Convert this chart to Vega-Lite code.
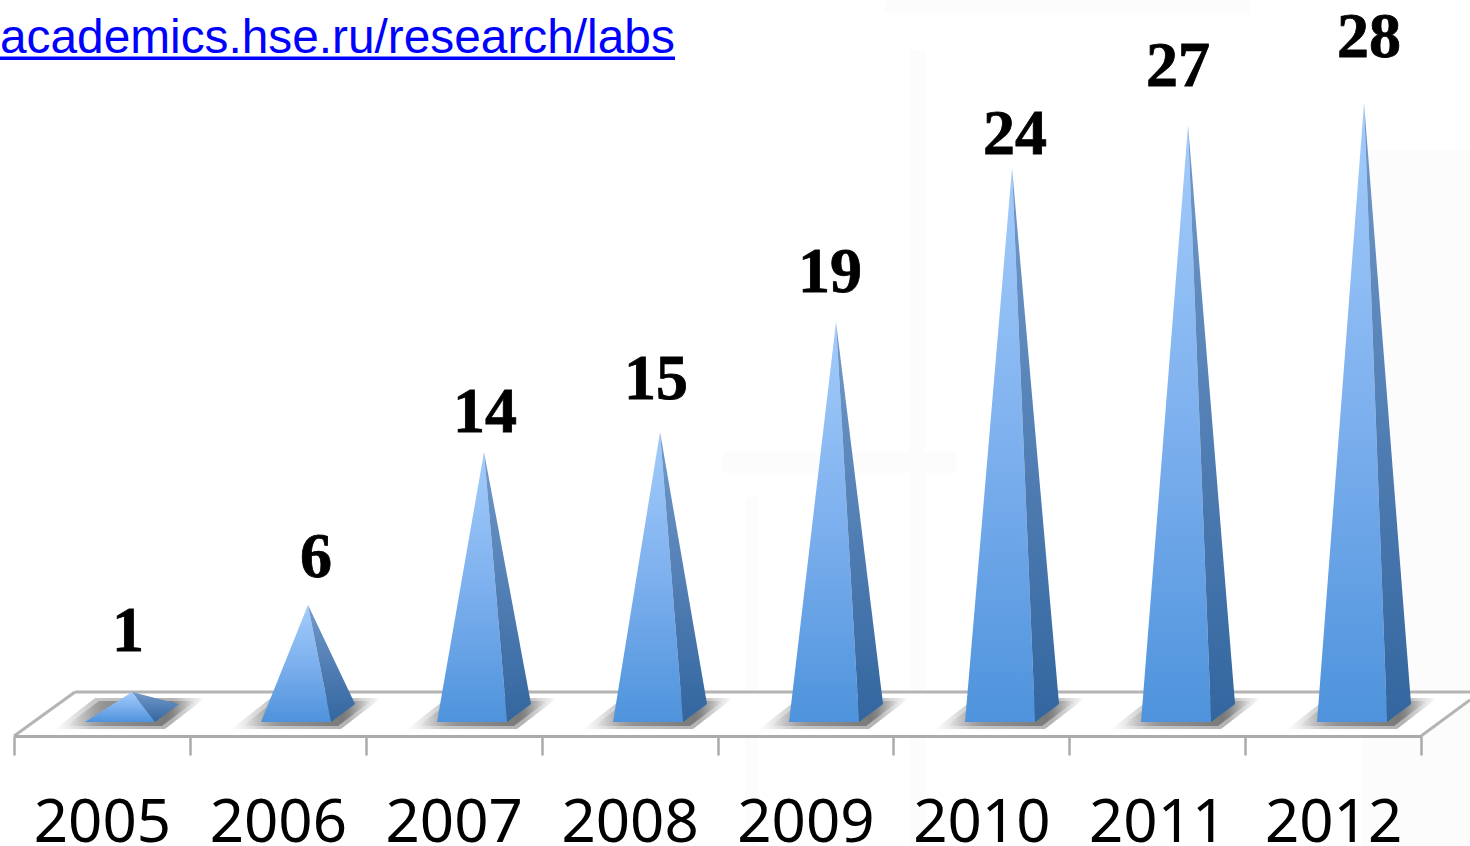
{"$schema":"https://vega.github.io/schema/vega-lite/v6.json","width":1470,"height":736,"padding":{"left":0,"top":0,"right":0,"bottom":110},"autosize":"none","background":"#ffffff","config":{"view":{"stroke":null}},
"datasets":{
"labels":[{"year":"2005","value":1,"pos":2004.977,"level":3.167},{"year":"2006","value":6,"pos":2006.045,"level":6.516},{"year":"2007","value":14,"pos":2007.006,"level":13.077},{"year":"2008","value":15,"pos":2007.977,"level":14.57},{"year":"2009","value":19,"pos":2008.966,"level":19.41},{"year":"2010","value":24,"pos":2010.017,"level":25.66},{"year":"2011","value":27,"pos":2010.943,"level":28.73},{"year":"2012","value":28,"pos":2012.028,"level":30.05}],
"watermark":[{"pos":2008.358,"end":2009.682,"top":12.217,"base":11.267},{"pos":2008.483,"end":2008.551,"top":10.18,"base":-5.61},{"pos":2009.42,"end":2009.506,"top":30.41,"base":-5.61},{"pos":2011.994,"end":2012.602,"top":25.88,"base":-5.61},{"pos":2009.278,"end":2011.352,"top":32.67,"base":32.08}],
"floorFill":[{"pos":2004.33,"top":-0.633,"base":-0.633},{"pos":2004.676,"top":1.357,"base":-0.633},{"pos":2012.324,"top":1.357,"base":-0.633},{"pos":2012.602,"top":1.357,"base":1.0}],
"floor":[{"edge":"left","pos":2004.33,"level":-0.633},{"edge":"left","pos":2004.676,"level":1.357},{"edge":"back","pos":2004.676,"level":1.357},{"edge":"back","pos":2012.602,"level":1.357},{"edge":"right","pos":2012.324,"level":-0.633},{"edge":"right","pos":2012.602,"level":1.0}],
"shadows":[
{"year":2005,"pos":2004.5625,"top":-0.32,"base":-0.32},{"year":2005,"pos":2004.79,"top":1.086,"base":-0.32},{"year":2005,"pos":2005.1875,"top":1.086,"base":-0.32},{"year":2005,"pos":2005.415,"top":1.086,"base":1.086},
{"year":2006,"pos":2005.5625,"top":-0.32,"base":-0.32},{"year":2006,"pos":2005.79,"top":1.086,"base":-0.32},{"year":2006,"pos":2006.1875,"top":1.086,"base":-0.32},{"year":2006,"pos":2006.415,"top":1.086,"base":1.086},
{"year":2007,"pos":2006.5625,"top":-0.32,"base":-0.32},{"year":2007,"pos":2006.79,"top":1.086,"base":-0.32},{"year":2007,"pos":2007.1875,"top":1.086,"base":-0.32},{"year":2007,"pos":2007.415,"top":1.086,"base":1.086},
{"year":2008,"pos":2007.5625,"top":-0.32,"base":-0.32},{"year":2008,"pos":2007.79,"top":1.086,"base":-0.32},{"year":2008,"pos":2008.1875,"top":1.086,"base":-0.32},{"year":2008,"pos":2008.415,"top":1.086,"base":1.086},
{"year":2009,"pos":2008.5625,"top":-0.32,"base":-0.32},{"year":2009,"pos":2008.79,"top":1.086,"base":-0.32},{"year":2009,"pos":2009.1875,"top":1.086,"base":-0.32},{"year":2009,"pos":2009.415,"top":1.086,"base":1.086},
{"year":2010,"pos":2009.5625,"top":-0.32,"base":-0.32},{"year":2010,"pos":2009.79,"top":1.086,"base":-0.32},{"year":2010,"pos":2010.1875,"top":1.086,"base":-0.32},{"year":2010,"pos":2010.415,"top":1.086,"base":1.086},
{"year":2011,"pos":2010.5625,"top":-0.32,"base":-0.32},{"year":2011,"pos":2010.79,"top":1.086,"base":-0.32},{"year":2011,"pos":2011.1875,"top":1.086,"base":-0.32},{"year":2011,"pos":2011.415,"top":1.086,"base":1.086},
{"year":2012,"pos":2011.5625,"top":-0.32,"base":-0.32},{"year":2012,"pos":2011.79,"top":1.086,"base":-0.32},{"year":2012,"pos":2012.1875,"top":1.086,"base":-0.32},{"year":2012,"pos":2012.415,"top":1.086,"base":1.086}],
"inner":[
{"year":2005,"pos":2004.625,"top":-0.18,"base":-0.18},{"year":2005,"pos":2004.8125,"top":0.95,"base":-0.18},{"year":2005,"pos":2005.17,"top":0.95,"base":-0.18},{"year":2005,"pos":2005.358,"top":0.95,"base":0.95},
{"year":2006,"pos":2005.625,"top":-0.18,"base":-0.18},{"year":2006,"pos":2005.8125,"top":0.95,"base":-0.18},{"year":2006,"pos":2006.17,"top":0.95,"base":-0.18},{"year":2006,"pos":2006.358,"top":0.95,"base":0.95},
{"year":2007,"pos":2006.625,"top":-0.18,"base":-0.18},{"year":2007,"pos":2006.8125,"top":0.95,"base":-0.18},{"year":2007,"pos":2007.17,"top":0.95,"base":-0.18},{"year":2007,"pos":2007.358,"top":0.95,"base":0.95},
{"year":2008,"pos":2007.625,"top":-0.18,"base":-0.18},{"year":2008,"pos":2007.8125,"top":0.95,"base":-0.18},{"year":2008,"pos":2008.17,"top":0.95,"base":-0.18},{"year":2008,"pos":2008.358,"top":0.95,"base":0.95},
{"year":2009,"pos":2008.625,"top":-0.18,"base":-0.18},{"year":2009,"pos":2008.8125,"top":0.95,"base":-0.18},{"year":2009,"pos":2009.17,"top":0.95,"base":-0.18},{"year":2009,"pos":2009.358,"top":0.95,"base":0.95},
{"year":2010,"pos":2009.625,"top":-0.18,"base":-0.18},{"year":2010,"pos":2009.8125,"top":0.95,"base":-0.18},{"year":2010,"pos":2010.17,"top":0.95,"base":-0.18},{"year":2010,"pos":2010.358,"top":0.95,"base":0.95},
{"year":2011,"pos":2010.625,"top":-0.18,"base":-0.18},{"year":2011,"pos":2010.8125,"top":0.95,"base":-0.18},{"year":2011,"pos":2011.17,"top":0.95,"base":-0.18},{"year":2011,"pos":2011.358,"top":0.95,"base":0.95},
{"year":2012,"pos":2011.625,"top":-0.18,"base":-0.18},{"year":2012,"pos":2011.8125,"top":0.95,"base":-0.18},{"year":2012,"pos":2012.17,"top":0.95,"base":-0.18},{"year":2012,"pos":2012.358,"top":0.95,"base":0.95}],
"front":[
{"year":2005,"pos":2004.733,"top":0,"base":0},{"year":2005,"pos":2005,"top":1.36,"base":0},{"year":2005,"pos":2005.131,"top":0,"base":0},
{"year":2006,"pos":2005.733,"top":0,"base":0},{"year":2006,"pos":2006,"top":5.29,"base":0},{"year":2006,"pos":2006.131,"top":0,"base":0},
{"year":2007,"pos":2006.733,"top":0,"base":0},{"year":2007,"pos":2007,"top":12.22,"base":0},{"year":2007,"pos":2007.131,"top":0,"base":0},
{"year":2008,"pos":2007.733,"top":0,"base":0},{"year":2008,"pos":2008,"top":13.12,"base":0},{"year":2008,"pos":2008.131,"top":0,"base":0},
{"year":2009,"pos":2008.733,"top":0,"base":0},{"year":2009,"pos":2009,"top":18.1,"base":0},{"year":2009,"pos":2009.131,"top":0,"base":0},
{"year":2010,"pos":2009.733,"top":0,"base":0},{"year":2010,"pos":2010,"top":25.07,"base":0},{"year":2010,"pos":2010.131,"top":0,"base":0},
{"year":2011,"pos":2010.733,"top":0,"base":0},{"year":2011,"pos":2011,"top":27.01,"base":0},{"year":2011,"pos":2011.131,"top":0,"base":0},
{"year":2012,"pos":2011.733,"top":0,"base":0},{"year":2012,"pos":2012,"top":28.01,"base":0},{"year":2012,"pos":2012.131,"top":0,"base":0}],
"side":[
{"year":2005,"pos":2005,"top":1.36,"base":1.36},{"year":2005,"pos":2005.131,"top":1.091,"base":0},{"year":2005,"pos":2005.267,"top":0.81,"base":0.81},
{"year":2006,"pos":2006,"top":5.29,"base":5.29},{"year":2006,"pos":2006.131,"top":3.099,"base":0},{"year":2006,"pos":2006.267,"top":0.81,"base":0.81},
{"year":2007,"pos":2007,"top":12.22,"base":12.22},{"year":2007,"pos":2007.131,"top":6.64,"base":0},{"year":2007,"pos":2007.267,"top":0.81,"base":0.81},
{"year":2008,"pos":2008,"top":13.12,"base":13.12},{"year":2008,"pos":2008.131,"top":7.1,"base":0},{"year":2008,"pos":2008.267,"top":0.81,"base":0.81},
{"year":2009,"pos":2009,"top":18.1,"base":18.1},{"year":2009,"pos":2009.131,"top":9.645,"base":0},{"year":2009,"pos":2009.267,"top":0.81,"base":0.81},
{"year":2010,"pos":2010,"top":25.07,"base":25.07},{"year":2010,"pos":2010.131,"top":13.207,"base":0},{"year":2010,"pos":2010.267,"top":0.81,"base":0.81},
{"year":2011,"pos":2011,"top":27.01,"base":27.01},{"year":2011,"pos":2011.131,"top":14.198,"base":0},{"year":2011,"pos":2011.267,"top":0.81,"base":0.81},
{"year":2012,"pos":2012,"top":28.01,"base":28.01},{"year":2012,"pos":2012.131,"top":14.709,"base":0},{"year":2012,"pos":2012.267,"top":0.81,"base":0.81}]
},
"resolve":{"scale":{"x":"independent"}},
"layer":[
{"data":{"name":"labels"},"mark":{"type":"bar","opacity":0},
 "encoding":{"x":{"field":"year","type":"ordinal","title":null,"scale":{"type":"band","range":[14,1421],"padding":0},
   "axis":{"orient":"bottom","zindex":1,"tickBand":"extent","domainColor":"#ababab","domainWidth":3,"tickColor":"#ababab","tickWidth":2.5,"tickSize":19,"labelFont":"Noto Sans","labelFontSize":60,"labelColor":"#000000","labelPadding":39,"labelAngle":0,"grid":false}},
  "y":{"datum":0,"type":"quantitative","scale":{"domain":[-0.6335,32.67],"nice":false,"zero":false},"axis":null}}},
{"data":{"name":"watermark"},"mark":{"type":"rect","color":"#fcfcfc","clip":false},
 "encoding":{"x":{"field":"pos","type":"quantitative","scale":{"domain":[2004.25,2012.602],"nice":false,"zero":false},"axis":null},"x2":{"field":"end"},
  "y":{"field":"top","type":"quantitative","axis":null},"y2":{"field":"base"}}},
{"data":{"name":"floorFill"},"mark":{"type":"area","fill":"#ffffff"},
 "encoding":{"x":{"field":"pos","type":"quantitative","scale":{"domain":[2004.25,2012.602],"nice":false,"zero":false},"axis":null},
  "y":{"field":"top","type":"quantitative","axis":null},"y2":{"field":"base"}}},
{"data":{"name":"floor"},"mark":{"type":"line","color":"#b4b4b4","strokeWidth":3},
 "encoding":{"x":{"field":"pos","type":"quantitative","scale":{"domain":[2004.25,2012.602],"nice":false,"zero":false},"axis":null},
  "y":{"field":"level","type":"quantitative","axis":null},"detail":{"field":"edge"}}},
{"data":{"name":"shadows"},"mark":{"type":"area","fill":{"gradient":"linear","x1":0,"y1":0,"x2":1,"y2":0,"stops":[{"offset":0,"color":"rgba(0,0,0,0)"},{"offset":0.25,"color":"rgba(0,0,0,0.22)"},{"offset":0.78,"color":"rgba(0,0,0,0.3)"},{"offset":1,"color":"rgba(0,0,0,0)"}]}},
 "encoding":{"x":{"field":"pos","type":"quantitative","scale":{"domain":[2004.25,2012.602],"nice":false,"zero":false},"axis":null},
  "y":{"field":"top","type":"quantitative","axis":null},"y2":{"field":"base"},"detail":{"field":"year"}}},
{"data":{"name":"inner"},"mark":{"type":"area","fill":{"gradient":"linear","x1":0,"y1":0,"x2":1,"y2":0,"stops":[{"offset":0,"color":"rgba(0,0,0,0)"},{"offset":0.3,"color":"rgba(0,0,0,0.25)"},{"offset":0.78,"color":"rgba(0,0,0,0.32)"},{"offset":1,"color":"rgba(0,0,0,0)"}]}},
 "encoding":{"x":{"field":"pos","type":"quantitative","scale":{"domain":[2004.25,2012.602],"nice":false,"zero":false},"axis":null},
  "y":{"field":"top","type":"quantitative","axis":null},"y2":{"field":"base"},"detail":{"field":"year"}}},
{"data":{"name":"front"},"mark":{"type":"area","fill":{"gradient":"linear","x1":0,"y1":0,"x2":0,"y2":1,"stops":[{"offset":0,"color":"#a4ccfb"},{"offset":0.5,"color":"#7db0ee"},{"offset":1,"color":"#4e93dc"}]}},
 "encoding":{"x":{"field":"pos","type":"quantitative","scale":{"domain":[2004.25,2012.602],"nice":false,"zero":false},"axis":null},
  "y":{"field":"top","type":"quantitative","axis":null},"y2":{"field":"base"},"detail":{"field":"year"}}},
{"data":{"name":"side"},"mark":{"type":"area","fill":{"gradient":"linear","x1":0,"y1":0,"x2":0,"y2":1,"stops":[{"offset":0,"color":"#7299cb"},{"offset":1,"color":"#33669f"}]}},
 "encoding":{"x":{"field":"pos","type":"quantitative","scale":{"domain":[2004.25,2012.602],"nice":false,"zero":false},"axis":null},
  "y":{"field":"top","type":"quantitative","axis":null},"y2":{"field":"base"},"detail":{"field":"year"}}},
{"data":{"name":"labels"},"mark":{"type":"text","font":"Liberation Serif","fontWeight":"bold","fontSize":64,"color":"#000000","stroke":"#000000","strokeWidth":0.8,"align":"center","baseline":"alphabetic","dy":-1},
 "encoding":{"x":{"field":"pos","type":"quantitative","scale":{"domain":[2004.25,2012.602],"nice":false,"zero":false},"axis":null},
  "y":{"field":"level","type":"quantitative","axis":null},"text":{"field":"value","type":"quantitative"}}},
{"data":{"values":[{"link":"academics.hse.ru/research/labs","pos":2004.25,"level":30.27}]},"mark":{"type":"text","font":"Liberation Sans","fontSize":47.8,"color":"#0000ff","align":"left","baseline":"alphabetic"},
 "encoding":{"x":{"field":"pos","type":"quantitative","scale":{"domain":[2004.25,2012.602],"nice":false,"zero":false},"axis":null},
  "y":{"field":"level","type":"quantitative","axis":null},"text":{"field":"link"}}},
{"data":{"values":[{"pos":2004.25,"end":2008.085,"level":30.03}]},"mark":{"type":"rule","color":"#0000ff","strokeWidth":3.5},
 "encoding":{"x":{"field":"pos","type":"quantitative","scale":{"domain":[2004.25,2012.602],"nice":false,"zero":false},"axis":null},"x2":{"field":"end"},
  "y":{"field":"level","type":"quantitative","axis":null}}}
]}
